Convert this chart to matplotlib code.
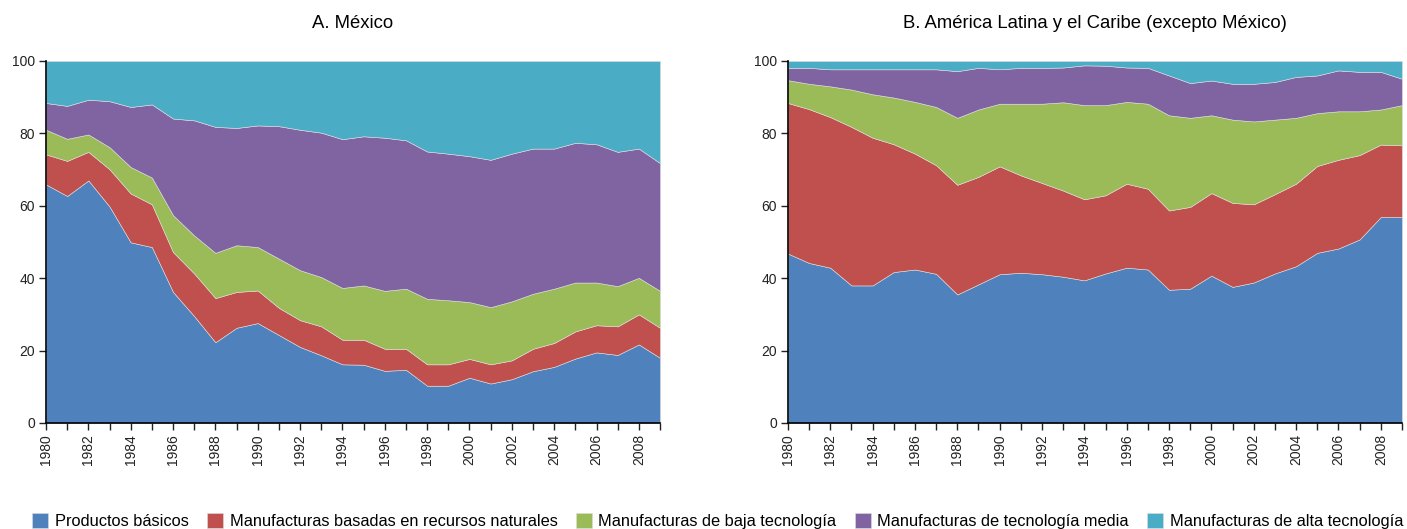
import matplotlib.pyplot as plt
import numpy as np

years = list(range(1980, 2010))

series_names = ['Productos básicos',
                'Manufacturas basadas en recursos naturales',
                'Manufacturas de baja tecnología',
                'Manufacturas de tecnología media',
                'Manufacturas de alta tecnología']
colors = ['#4F81BD', '#C0504D', '#9BBB59', '#8064A2', '#4BACC6']

# cumulative tops (percent)
mex_basic = [65.9, 62.7, 67.0, 59.8, 49.9, 48.6, 36.2, 29.5, 22.3, 26.3,
             27.6, 24.3, 21.0, 18.7, 16.2, 16.1, 14.4, 14.7, 10.3, 10.3,
             12.5, 10.9, 12.1, 14.3, 15.5, 17.8, 19.5, 18.8, 21.7, 18.0]
mex_rn = [74.2, 72.4, 74.9, 70.1, 63.4, 60.4, 47.2, 41.3, 34.5, 36.2,
          36.6, 31.8, 28.4, 26.7, 23.0, 23.0, 20.5, 20.5, 16.2, 16.2,
          17.7, 16.2, 17.3, 20.5, 22.1, 25.3, 27.0, 26.7, 30.0, 26.3]
mex_low = [81.0, 78.5, 79.7, 76.2, 70.7, 67.8, 57.4, 51.8, 47.0, 49.1,
           48.6, 45.4, 42.2, 40.3, 37.3, 38.0, 36.5, 37.1, 34.3, 33.9,
           33.4, 32.0, 33.6, 35.7, 37.1, 38.8, 38.8, 37.8, 40.1, 36.5]
mex_med = [88.4, 87.6, 89.3, 88.9, 87.3, 88.0, 84.1, 83.6, 81.8, 81.5,
           82.2, 82.0, 81.0, 80.2, 78.4, 79.2, 78.8, 78.1, 75.0, 74.4,
           73.7, 72.7, 74.4, 75.8, 75.8, 77.4, 77.0, 74.9, 75.8, 71.8]

lac_basic = [46.8, 44.2, 42.9, 38.0, 38.0, 41.7, 42.4, 41.2, 35.5, 38.3,
             41.1, 41.5, 41.1, 40.4, 39.4, 41.3, 42.9, 42.4, 36.8, 37.1,
             40.7, 37.6, 38.8, 41.3, 43.3, 47.0, 48.2, 50.7, 56.9, 56.9]
lac_rn = [88.4, 86.7, 84.5, 81.8, 78.8, 77.0, 74.4, 71.2, 65.8, 68.0,
          70.9, 68.4, 66.3, 64.2, 61.8, 62.9, 66.1, 64.7, 58.7, 59.7,
          63.5, 60.8, 60.4, 63.2, 66.1, 71.0, 72.7, 74.0, 76.9, 76.7]
lac_low = [94.7, 93.7, 93.0, 92.1, 90.8, 89.9, 88.7, 87.3, 84.3, 86.6,
           88.2, 88.2, 88.2, 88.6, 87.8, 87.8, 88.7, 88.2, 85.0, 84.3,
           85.0, 83.8, 83.3, 83.8, 84.3, 85.6, 86.1, 86.1, 86.6, 87.8]
lac_med = [98.1, 98.1, 97.7, 97.7, 97.7, 97.7, 97.7, 97.7, 97.2, 98.1,
           97.7, 98.1, 98.1, 98.2, 98.8, 98.7, 98.2, 98.1, 96.0, 93.9,
           94.6, 93.7, 93.7, 94.2, 95.6, 96.0, 97.4, 97.0, 97.0, 95.1]


def shares(*tops):
    cum = [np.zeros(len(years))] + [np.array(t) for t in tops] + [np.full(len(years), 100.0)]
    return [cum[i + 1] - cum[i] for i in range(len(cum) - 1)]


plt.rcParams['font.family'] = ['Liberation Sans', 'DejaVu Sans']

fig = plt.figure(figsize=(14.07, 5.29), dpi=100)
ax1 = fig.add_axes([0.0327, 0.2004, 0.4364, 0.6843])
ax2 = fig.add_axes([0.5600, 0.2004, 0.4364, 0.6843])

panels = [(ax1, shares(mex_basic, mex_rn, mex_low, mex_med), 'A. México'),
          (ax2, shares(lac_basic, lac_rn, lac_low, lac_med),
           'B. América Latina y el Caribe (excepto México)')]

for ax, data, title in panels:
    polys = ax.stackplot(years, *data, colors=colors, labels=series_names,
                         edgecolor='#dddddd', linewidth=0.4)
    ax.set_xlim(1980, 2009)
    ax.set_ylim(0, 100)
    ax.set_yticks([0, 20, 40, 60, 80, 100])
    ax.set_xticks(years)
    ax.set_xticklabels([str(y) if y % 2 == 0 else '' for y in years], rotation=90)
    ax.tick_params(axis='both', labelsize=10, length=5, width=1, direction='out',
                   colors='#222222', pad=3)
    for s in ['top', 'right']:
        ax.spines[s].set_visible(False)
    ax.spines['left'].set_linewidth(1.2)
    ax.spines['bottom'].set_linewidth(1.2)
    ax.set_title(title, fontsize=13.3, pad=24)

fig.legend(polys, series_names, loc='lower center', bbox_to_anchor=(0.51, -0.028),
           ncol=5, frameon=False, fontsize=11.8, handlelength=1.0, handleheight=1.0,
           handletextpad=0.4, columnspacing=1.1)

fig.savefig('out.png', dpi=100)
